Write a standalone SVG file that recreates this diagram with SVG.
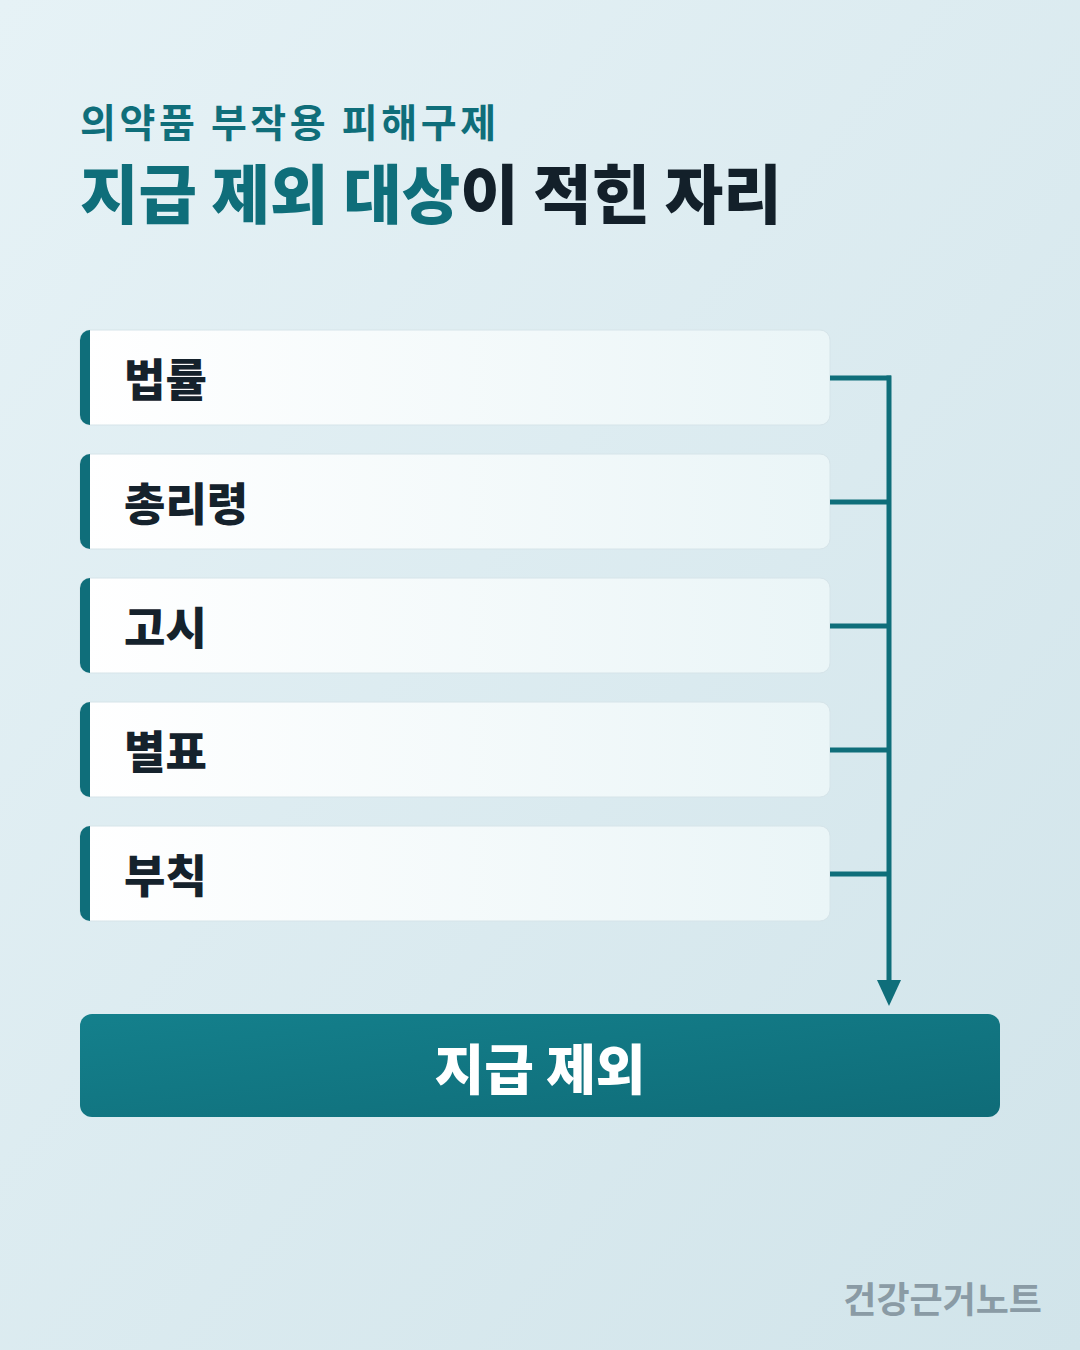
<svg xmlns="http://www.w3.org/2000/svg" width="1080" height="1350" viewBox="0 0 1080 1350">
<defs>
<linearGradient id="bg" x1="0" y1="0" x2="1" y2="1">
<stop offset="0" stop-color="#e6f2f6"/>
<stop offset="1" stop-color="#d1e4ea"/>
</linearGradient>
<linearGradient id="boxg" x1="0" y1="0" x2="1" y2="0">
<stop offset="0" stop-color="#ffffff"/>
<stop offset="1" stop-color="#eaf5f7"/>
</linearGradient>
<linearGradient id="btn" x1="0" y1="0" x2="1" y2="1">
<stop offset="0" stop-color="#14808c"/>
<stop offset="1" stop-color="#0f6c78"/>
</linearGradient>
<clipPath id="c1"><rect x="80" y="330" width="750" height="95" rx="10"/></clipPath>
<clipPath id="c2"><rect x="80" y="454" width="750" height="95" rx="10"/></clipPath>
<clipPath id="c3"><rect x="80" y="578" width="750" height="95" rx="10"/></clipPath>
<clipPath id="c4"><rect x="80" y="702" width="750" height="95" rx="10"/></clipPath>
<clipPath id="c5"><rect x="80" y="826" width="750" height="95" rx="10"/></clipPath>
<marker id="arr" markerWidth="26" markerHeight="24" refX="0" refY="12" orient="auto" markerUnits="userSpaceOnUse" viewBox="0 0 26 24">
<path d="M0,0 L26,12 L0,24 Z" fill="#0f6e7a"/>
</marker>
</defs>
<style>
.f{font-family:"Noto Sans CJK KR","Noto Sans",sans-serif}
.box{fill:url(#boxg);stroke:#d6e4e9;stroke-width:1}
.bar{fill:#0f6e7a}
.lbl{font-size:45px;font-weight:800;fill:#15222c}
.con{stroke:#0f6e7a;stroke-width:5;fill:none}
</style>
<rect width="1080" height="1350" fill="url(#bg)"/>
<g id="title">
<text class="f" x="80" y="137" font-size="39" font-weight="700" fill="#0f6e7a" letter-spacing="3.6">의약품 부작용 피해구제</text>
<text class="f" x="80" y="218" font-size="63.6" font-weight="900" fill="#0f6e7a">지급 제외 대상<tspan fill="#13202a">이 적힌 자리</tspan></text>
</g>
<g id="n1"><rect class="box" x="80" y="330" width="750" height="95" rx="10"/><rect class="bar" x="80" y="330" width="10" height="95" clip-path="url(#c1)"/><text class="f lbl" x="124" y="397">법률</text></g>
<g id="n2"><rect class="box" x="80" y="454" width="750" height="95" rx="10"/><rect class="bar" x="80" y="454" width="10" height="95" clip-path="url(#c2)"/><text class="f lbl" x="124" y="521">총리령</text></g>
<g id="n3"><rect class="box" x="80" y="578" width="750" height="95" rx="10"/><rect class="bar" x="80" y="578" width="10" height="95" clip-path="url(#c3)"/><text class="f lbl" x="124" y="645">고시</text></g>
<g id="n4"><rect class="box" x="80" y="702" width="750" height="95" rx="10"/><rect class="bar" x="80" y="702" width="10" height="95" clip-path="url(#c4)"/><text class="f lbl" x="124" y="769">별표</text></g>
<g id="n5"><rect class="box" x="80" y="826" width="750" height="95" rx="10"/><rect class="bar" x="80" y="826" width="10" height="95" clip-path="url(#c5)"/><text class="f lbl" x="124" y="893">부칙</text></g>
<g id="connectors">
<line class="con" x1="830" y1="378" x2="891" y2="378"/>
<line class="con" x1="830" y1="502" x2="889" y2="502"/>
<line class="con" x1="830" y1="626" x2="889" y2="626"/>
<line class="con" x1="830" y1="750" x2="889" y2="750"/>
<line class="con" x1="830" y1="874" x2="889" y2="874"/>
<line class="con" x1="889" y1="375.5" x2="889" y2="980" marker-end="url(#arr)"/>
</g>
<g id="result">
<rect x="80" y="1014" width="920" height="103" rx="12" fill="url(#btn)"/>
<text class="f" x="540" y="1090" font-size="54" font-weight="900" fill="#ffffff" text-anchor="middle">지급 제외</text>
</g>
<g id="footer">
<text class="f" x="1042" y="1313" font-size="36" font-weight="700" fill="#8a9ba5" text-anchor="end">건강근거노트</text>
</g>
</svg>
